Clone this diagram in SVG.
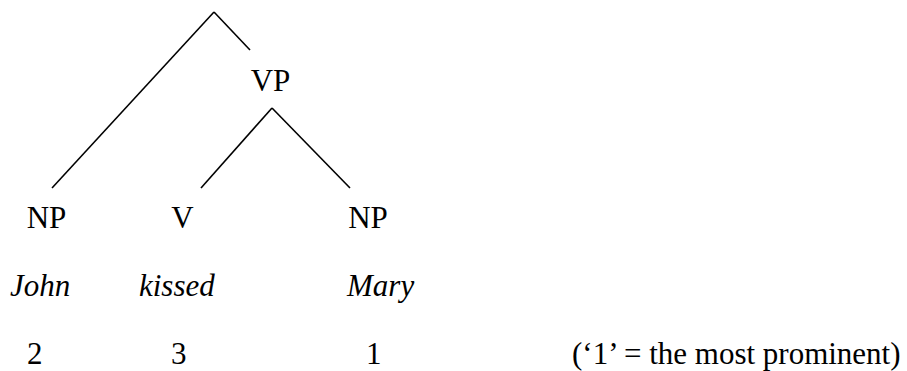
<svg xmlns="http://www.w3.org/2000/svg" width="907" height="371" viewBox="0 0 907 371">
<style>
text{font-family:"Liberation Serif","Times New Roman",serif;font-size:31px;fill:#000}
.it{font-style:italic}
.br{stroke:#000;stroke-width:1.6;fill:none}
</style>
<rect width="907" height="371" fill="#fff"/>
<g id="connectors">
<line class="br" x1="214" y1="12" x2="52" y2="188"/>
<line class="br" x1="214" y1="12" x2="250" y2="50"/>
<line class="br" x1="272" y1="108" x2="201" y2="188"/>
<line class="br" x1="272" y1="108" x2="350" y2="188"/>
</g>
<g id="node-VP"><text x="270.5" y="91" text-anchor="middle">VP</text></g>
<g id="node-NP1"><text x="46.5" y="228" text-anchor="middle">NP</text></g>
<g id="node-V"><text x="182.5" y="228" text-anchor="middle">V</text></g>
<g id="node-NP2"><text x="368" y="228" text-anchor="middle">NP</text></g>
<g id="word-John"><text class="it" x="10" y="296">John</text></g>
<g id="word-kissed"><text class="it" x="139" y="296">kissed</text></g>
<g id="word-Mary"><text class="it" x="347" y="296">Mary</text></g>
<g id="num-2"><text x="27" y="364">2</text></g>
<g id="num-3"><text x="171" y="364">3</text></g>
<g id="num-1"><text x="366" y="364">1</text></g>
<g id="note"><text x="572" y="364">(‘1’ = the most prominent)</text></g>
</svg>
